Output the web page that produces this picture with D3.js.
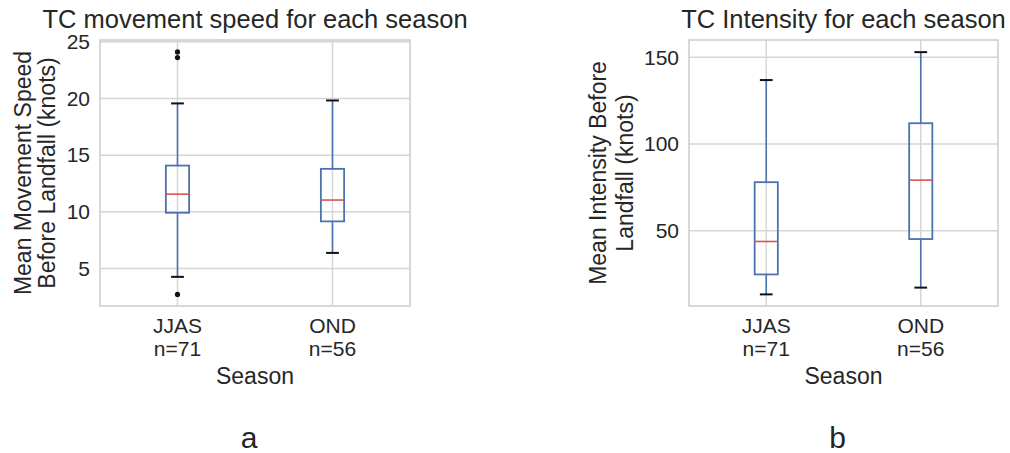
<!DOCTYPE html>
<html>
<head>
<meta charset="utf-8">
<script src="https://cdn.jsdelivr.net/npm/d3@7"></script>
<style>
  body { margin: 0; background: #fff; }
  text { font-family: "Liberation Sans", Arial, sans-serif; fill: #262626; }
</style>
</head>
<body>
<div id="wrapper"></div>
<script>
// categories and sample sizes
const seasons = ["JJAS", "OND"];
const counts = [71, 56];

// box stats: [lower whisker, q1, median, q3, upper whisker]
const speedStats = [[4.27, 9.92, 11.56, 14.08, 19.56], [6.38, 9.16, 11.04, 13.79, 19.82]];
const speedOutliers = [[24.1, 23.6, 2.72], []];
const speedTicks = [5, 10, 15, 20, 25];

const intensityStats = [[13.3, 24.8, 43.8, 78.0, 136.9], [17.2, 45.2, 79.2, 112.0, 153.0]];
const intensityOutliers = [[], []];
const intensityTicks = [50, 100, 150];

const svg = d3.select("#wrapper").append("svg")
    .attr("width", 1010)
    .attr("height", 453);

function drawPanel(opt) {
    const x = d3.scalePoint()
        .domain(seasons)
        .range([opt.left, opt.right])
        .padding(0.5);
    const y = d3.scaleLinear()
        .domain(opt.domain)
        .range([opt.bottom, opt.top]);

    const g = svg.append("g");
    const boxW = x.step() * 0.15;
    const capW = boxW * 0.55;

    // grid
    g.selectAll(".hgrid").data(opt.ticks).join("line")
        .attr("x1", opt.left).attr("x2", opt.right)
        .attr("y1", d => y(d)).attr("y2", d => y(d))
        .attr("stroke", "#d6d6d6").attr("stroke-width", 1.5);
    g.selectAll(".vgrid").data(seasons).join("line")
        .attr("x1", d => x(d)).attr("x2", d => x(d))
        .attr("y1", opt.top).attr("y2", opt.bottom)
        .attr("stroke", "#d6d6d6").attr("stroke-width", 1.5);

    // frame
    g.append("rect")
        .attr("x", opt.left).attr("y", opt.top)
        .attr("width", opt.right - opt.left).attr("height", opt.bottom - opt.top)
        .attr("fill", "none").attr("stroke", "#cccccc").attr("stroke-width", 1.5);

    // y axis labels (no tick marks)
    const yAxis = d3.axisLeft(y).tickValues(opt.ticks).tickSize(0).tickPadding(10);
    const ya = g.append("g").attr("transform", `translate(${opt.left},0)`).call(yAxis);
    ya.select(".domain").remove();
    ya.selectAll("text").style("font-size", "21px").attr("fill", "#262626")
        .style("font-family", '"Liberation Sans", Arial, sans-serif');

    // boxes
    const boxes = g.selectAll(".box").data(seasons).join("g");
    boxes.each(function (s, i) {
        const b = d3.select(this);
        const st = opt.stats[i];
        const cx = x(s);
        b.append("line").attr("x1", cx).attr("x2", cx)
            .attr("y1", y(st[0])).attr("y2", y(st[1]))
            .attr("stroke", "#4c72b0").attr("stroke-width", 1.6);
        b.append("line").attr("x1", cx).attr("x2", cx)
            .attr("y1", y(st[3])).attr("y2", y(st[4]))
            .attr("stroke", "#4c72b0").attr("stroke-width", 1.6);
        b.append("rect")
            .attr("x", cx - boxW / 2).attr("width", boxW)
            .attr("y", y(st[3])).attr("height", y(st[1]) - y(st[3]))
            .attr("fill", "none").attr("stroke", "#4c72b0").attr("stroke-width", 1.8);
        b.append("line").attr("x1", cx - boxW / 2).attr("x2", cx + boxW / 2)
            .attr("y1", y(st[2])).attr("y2", y(st[2]))
            .attr("stroke", "#d9534f").attr("stroke-width", 1.6);
        [st[0], st[4]].forEach(v => {
            b.append("line").attr("x1", cx - capW / 2).attr("x2", cx + capW / 2)
                .attr("y1", y(v)).attr("y2", y(v))
                .attr("stroke", "#111").attr("stroke-width", 2);
        });
        b.selectAll("circle").data(opt.outliers[i]).join("circle")
            .attr("cx", cx).attr("cy", d => y(d)).attr("r", 2.6)
            .attr("fill", "#111");
    });

    // x tick labels (two lines)
    seasons.forEach((s, i) => {
        g.append("text").attr("x", x(s)).attr("y", 333)
            .attr("text-anchor", "middle").style("font-size", "21px").text(s);
        g.append("text").attr("x", x(s)).attr("y", 355.5)
            .attr("text-anchor", "middle").style("font-size", "21px").text("n=" + counts[i]);
    });

    const mid = (opt.left + opt.right) / 2;
    const midY = (opt.top + opt.bottom) / 2;
    g.append("text").attr("x", mid).attr("y", 384)
        .attr("text-anchor", "middle").style("font-size", "23px").text("Season");

    opt.ylabel.forEach((line, k) => {
        g.append("text")
            .attr("transform", `translate(${opt.ylabelX[k]},${midY}) rotate(-90)`)
            .attr("text-anchor", "middle").style("font-size", "23px").text(line);
    });

    g.append("text").attr("x", mid).attr("y", 28)
        .attr("text-anchor", "middle").style("font-size", "25.5px").text(opt.title);

    g.append("text").attr("x", mid - 6).attr("y", 448)
        .attr("text-anchor", "middle").style("font-size", "30px").text(opt.tag);
}

drawPanel({
    left: 100, right: 410, top: 40, bottom: 306,
    domain: [1.7, 25.15],
    ticks: speedTicks,
    stats: speedStats,
    outliers: speedOutliers,
    title: "TC movement speed for each season",
    ylabel: ["Mean Movement Speed", "Before Landfall (knots)"],
    ylabelX: [31, 54.5],
    tag: "a"
});

drawPanel({
    left: 689, right: 998, top: 40, bottom: 306,
    domain: [6.6, 160],
    ticks: intensityTicks,
    stats: intensityStats,
    outliers: intensityOutliers,
    title: "TC Intensity for each season",
    ylabel: ["Mean Intensity Before", "Landfall (knots)"],
    ylabelX: [606, 632.5],
    tag: "b"
});
</script>
</body>
</html>
